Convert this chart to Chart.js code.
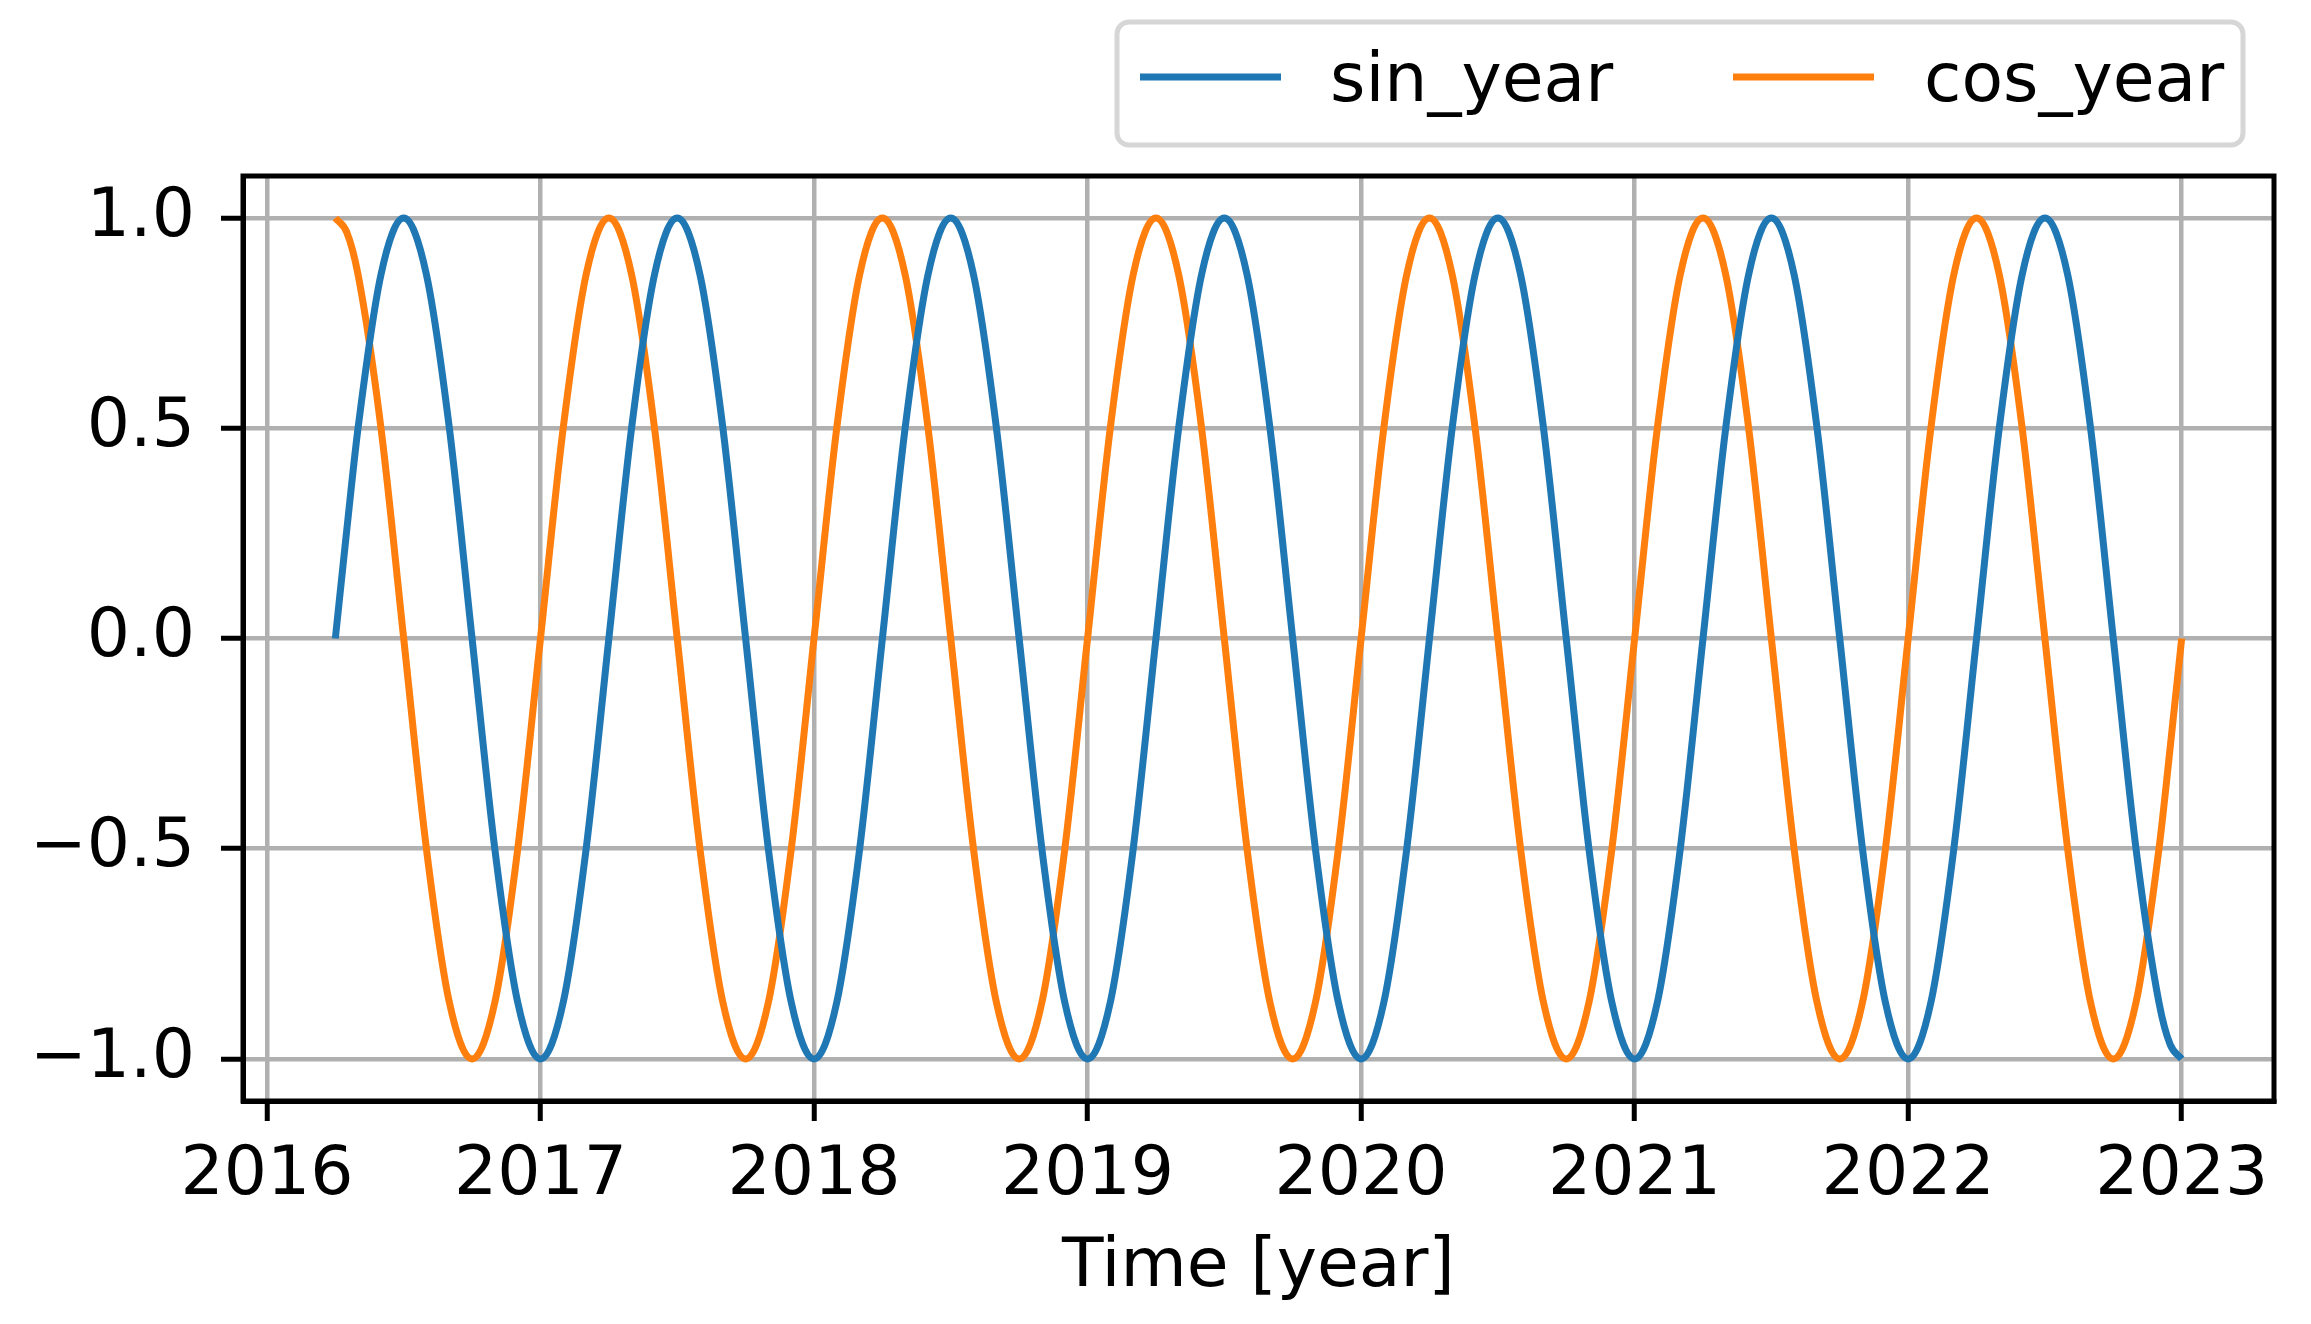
<!DOCTYPE html>
<html>
<head>
<meta charset="utf-8">
<script src="https://cdn.jsdelivr.net/npm/chart.js@4.4.1/dist/chart.umd.min.js"></script>
<style>
    html, body { margin: 0; padding: 0; background: #ffffff; }
    #diagram { display: block; }
</style>
</head>
<body>
<canvas id="diagram" width="2311" height="1324"></canvas>
<script>
// tidpunkter (decimalår), en rad per år
const years = [
    2016.25, 2016.292, 2016.333, 2016.417, 2016.5, 2016.583, 2016.667, 2016.75, 2016.833, 2016.917,
    2017, 2017.083, 2017.167, 2017.25, 2017.333, 2017.417, 2017.5, 2017.583, 2017.667, 2017.75, 2017.833, 2017.917,
    2018, 2018.083, 2018.167, 2018.25, 2018.333, 2018.417, 2018.5, 2018.583, 2018.667, 2018.75, 2018.833, 2018.917,
    2019, 2019.083, 2019.167, 2019.25, 2019.333, 2019.417, 2019.5, 2019.583, 2019.667, 2019.75, 2019.833, 2019.917,
    2020, 2020.083, 2020.167, 2020.25, 2020.333, 2020.417, 2020.5, 2020.583, 2020.667, 2020.75, 2020.833, 2020.917,
    2021, 2021.083, 2021.167, 2021.25, 2021.333, 2021.417, 2021.5, 2021.583, 2021.667, 2021.75, 2021.833, 2021.917,
    2022, 2022.083, 2022.167, 2022.25, 2022.333, 2022.417, 2022.5, 2022.583, 2022.667, 2022.75, 2022.833, 2022.917, 2022.958,
    2023
];

const sinYear = [
    0, 0.259, 0.5, 0.866, 1, 0.866, 0.5, 0, -0.5, -0.866,
    -1, -0.866, -0.5, 0, 0.5, 0.866, 1, 0.866, 0.5, 0, -0.5, -0.866,
    -1, -0.866, -0.5, 0, 0.5, 0.866, 1, 0.866, 0.5, 0, -0.5, -0.866,
    -1, -0.866, -0.5, 0, 0.5, 0.866, 1, 0.866, 0.5, 0, -0.5, -0.866,
    -1, -0.866, -0.5, 0, 0.5, 0.866, 1, 0.866, 0.5, 0, -0.5, -0.866,
    -1, -0.866, -0.5, 0, 0.5, 0.866, 1, 0.866, 0.5, 0, -0.5, -0.866,
    -1, -0.866, -0.5, 0, 0.5, 0.866, 1, 0.866, 0.5, 0, -0.5, -0.866, -0.966,
    -1
];

const cosYear = [
    1, 0.966, 0.866, 0.5, 0, -0.5, -0.866, -1, -0.866, -0.5,
    0, 0.5, 0.866, 1, 0.866, 0.5, 0, -0.5, -0.866, -1, -0.866, -0.5,
    0, 0.5, 0.866, 1, 0.866, 0.5, 0, -0.5, -0.866, -1, -0.866, -0.5,
    0, 0.5, 0.866, 1, 0.866, 0.5, 0, -0.5, -0.866, -1, -0.866, -0.5,
    0, 0.5, 0.866, 1, 0.866, 0.5, 0, -0.5, -0.866, -1, -0.866, -0.5,
    0, 0.5, 0.866, 1, 0.866, 0.5, 0, -0.5, -0.866, -1, -0.866, -0.5,
    0, 0.5, 0.866, 1, 0.866, 0.5, 0, -0.5, -0.866, -1, -0.866, -0.5, -0.259,
    0
];

const xTicks = [2016, 2017, 2018, 2019, 2020, 2021, 2022, 2023];
const yTicks = [-1, -0.5, 0, 0.5, 1];
const yTickLabels = ['\u22121.0', '\u22120.5', '0.0', '0.5', '1.0'];
const seriesNames = ['sin_year', 'cos_year'];
const seriesColors = ['#1f77b4', '#ff7f0e'];

const FONT = '"DejaVu Sans", sans-serif';

/**
* Ritar ram runt hela ritytan (alla fyra sidor)
*/
const frameBox = {
    id: 'frameBox',
    afterDatasetsDraw(chart) {
        const { ctx, chartArea } = chart;
        ctx.save();
        ctx.lineWidth = 5;
        ctx.strokeStyle = '#000000';
        ctx.strokeRect(chartArea.left, chartArea.top, chartArea.right - chartArea.left, chartArea.bottom - chartArea.top);
        ctx.restore();
    }
};

/**
* Egen legend i en ruta ovanför diagrammet
*/
const legendBox = {
    id: 'legendBox',
    afterDraw(chart) {
        const ctx = chart.ctx;
        ctx.save();
        ctx.beginPath();
        ctx.roundRect(1117, 22, 1126, 123, 12);
        ctx.fillStyle = 'rgba(255,255,255,0.8)';
        ctx.fill();
        ctx.lineWidth = 5;
        ctx.strokeStyle = '#d6d6d6';
        ctx.stroke();

        const items = [
            { x0: 1140, x1: 1281, tx: 1330 },
            { x0: 1733, x1: 1874, tx: 1924 }
        ];
        ctx.font = '68px ' + FONT;
        ctx.textBaseline = 'alphabetic';
        ctx.textAlign = 'left';
        chart.data.datasets.forEach((ds, i) => {
            const it = items[i];
            ctx.beginPath();
            ctx.moveTo(it.x0, 77);
            ctx.lineTo(it.x1, 77);
            ctx.lineWidth = 7;
            ctx.strokeStyle = ds.borderColor;
            ctx.stroke();
            ctx.fillStyle = '#000000';
            ctx.fillText(ds.label, it.tx, 101);
        });
        ctx.restore();
    }
};

function createChart() {
    const ctx = document.getElementById('diagram').getContext('2d');

    new Chart(ctx, {
        type: 'line',
        data: {
            datasets: [
                {
                    label: seriesNames[0],
                    data: years.map((x, i) => ({ x: x, y: sinYear[i] })),
                    borderColor: seriesColors[0],
                    borderWidth: 7,
                    pointRadius: 0,
                    cubicInterpolationMode: 'monotone',
                    fill: false
                },
                {
                    label: seriesNames[1],
                    data: years.map((x, i) => ({ x: x, y: cosYear[i] })),
                    borderColor: seriesColors[1],
                    borderWidth: 7,
                    pointRadius: 0,
                    cubicInterpolationMode: 'monotone',
                    fill: false
                }
            ]
        },
        options: {
            responsive: false,
            animation: false,
            devicePixelRatio: 1,
            layout: {
                padding: { top: 176, right: 37, left: 0, bottom: 0 }
            },
            plugins: {
                legend: { display: false },
                tooltip: { enabled: false }
            },
            scales: {
                x: {
                    type: 'linear',
                    min: 2015.9125,
                    max: 2023.3375,
                    afterBuildTicks: scale => {
                        scale.ticks = xTicks.map(v => ({ value: v }));
                    },
                    afterFit: scale => {
                        scale.height = 223;
                    },
                    ticks: {
                        color: '#000000',
                        font: { family: FONT, size: 68 },
                        padding: 15,
                        maxRotation: 0,
                        autoSkip: false,
                        callback: value => String(value)
                    },
                    grid: {
                        color: '#b0b0b0',
                        lineWidth: 4.5,
                        tickColor: '#000000',
                        tickWidth: 5,
                        tickLength: 20
                    },
                    border: { display: true, color: '#000000', width: 5 },
                    title: {
                        display: true,
                        text: 'Time [year]',
                        color: '#000000',
                        font: { family: FONT, size: 68 },
                        padding: { top: 0, bottom: 15 }
                    }
                },
                y: {
                    type: 'linear',
                    min: -1.1,
                    max: 1.1,
                    afterBuildTicks: scale => {
                        scale.ticks = yTicks.map(v => ({ value: v }));
                    },
                    afterFit: scale => {
                        scale.width = 243;
                    },
                    ticks: {
                        color: '#000000',
                        font: { family: FONT, size: 68 },
                        padding: 26,
                        autoSkip: false,
                        callback: value => yTickLabels[yTicks.indexOf(value)]
                    },
                    grid: {
                        color: '#b0b0b0',
                        lineWidth: 4.5,
                        tickColor: '#000000',
                        tickWidth: 5,
                        tickLength: 22
                    },
                    border: { display: true, color: '#000000', width: 5 }
                }
            }
        },
        plugins: [frameBox, legendBox]
    });
}

window.onload = createChart;
</script>
</body>
</html>
